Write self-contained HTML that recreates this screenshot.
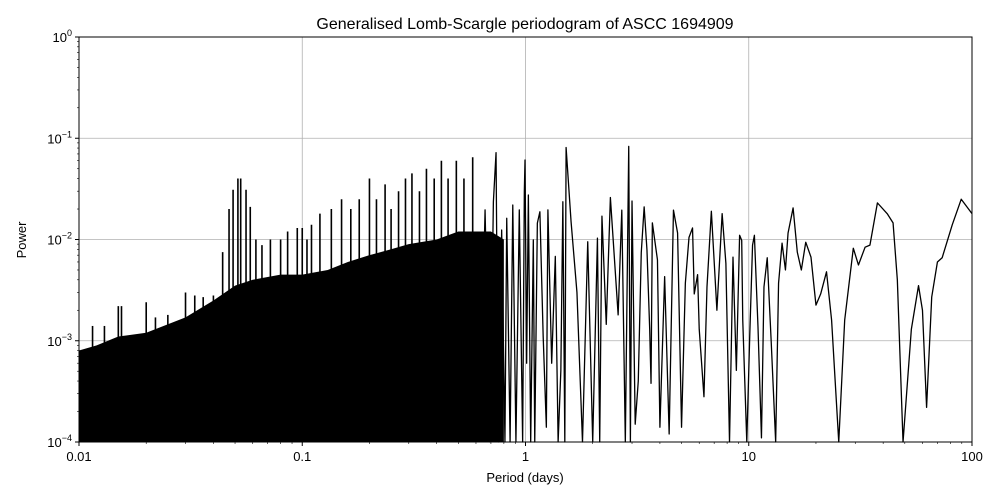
<!DOCTYPE html>
<html><head><meta charset="utf-8"><style>
body{margin:0;background:#fff;}
svg{display:block;font-family:"Liberation Sans",sans-serif;}
</style></head><body>
<svg id="chart" width="1000" height="500" viewBox="0 0 1000 500" xmlns="http://www.w3.org/2000/svg">
<rect width="1000" height="500" fill="#fff"/>
<text x="525" y="29" font-size="16" text-anchor="middle">Generalised Lomb-Scargle periodogram of ASCC 1694909</text>
<g id="grid"></g>
<g id="marks"></g>
<rect x="79" y="37" width="893" height="405" fill="none" stroke="#000" stroke-width="1"/>
<g id="axes"></g>
<text x="525" y="482" font-size="13" text-anchor="middle">Period (days)</text>
<text x="0" y="0" font-size="13" text-anchor="middle" transform="translate(26,240) rotate(-90)">Power</text>
</svg>
<script>
// dense-region upper envelope
const envPeriods=[0.01,0.012,0.015,0.02,0.03,0.04,0.05,0.06,0.08,0.1,0.13,0.16,0.2,0.25,0.3,0.4,0.5,0.6,0.7,0.8];
const envPower=[0.0008,0.0009,0.0011,0.0012,0.0017,0.0025,0.0035,0.004,0.0045,0.0045,0.005,0.006,0.007,0.008,0.009,0.01,0.012,0.012,0.012,0.01];
// spikes
const spikePeriods=[0.0115,0.013,0.015,0.0155,0.02,0.022,0.025,0.03,0.033,0.036,0.04,0.044,0.047,0.049,0.0515,0.053,0.056,0.0585,0.062,0.066,0.072,0.08,0.086,0.095,0.1,0.105,0.11,0.12,0.135,0.15,0.165,0.18,0.2,0.215,0.235,0.25,0.27,0.29,0.31,0.335,0.36,0.39,0.42,0.45,0.49,0.53,0.58];
const spikePower=[0.0014,0.0014,0.0022,0.0022,0.0024,0.0017,0.0018,0.003,0.0028,0.0027,0.0028,0.0075,0.02,0.031,0.04,0.04,0.031,0.021,0.01,0.0088,0.01,0.01,0.012,0.013,0.013,0.01,0.014,0.018,0.02,0.025,0.02,0.025,0.04,0.025,0.035,0.02,0.03,0.04,0.045,0.03,0.05,0.04,0.06,0.04,0.06,0.04,0.065];
// sparse region line
const linePeriods=[0.625,0.659,0.693,0.718,0.738,0.755,0.782,0.809,0.824,0.853,0.877,0.906,0.938,0.971,0.988,0.995,1.012,1.03,1.055,1.084,1.10,1.13,1.16,1.20,1.24,1.26,1.31,1.36,1.40,1.44,1.47,1.5,1.52,1.6,1.7,1.8,1.9,2.0,2.1,2.15,2.2,2.3,2.4,2.6,2.7,2.8,2.9,2.95,3.0,3.1,3.2,3.3,3.4,3.5,3.6,3.65,3.7,3.9,4.0,4.2,4.4,4.6,4.8,5.0,5.2,5.4,5.6,5.7,5.9,6.0,6.3,6.5,6.8,7.2,7.6,7.9,8.2,8.5,8.8,9.1,9.3,9.4,9.8,10.1,10.4,10.6,11,11.4,11.7,12.1,12.6,13.2,13.6,14.1,14.6,15.0,15.8,16.5,17.2,18.0,19.0,20.0,21.0,22.3,23.5,25.3,26.9,29.4,31.0,33.2,34.9,37.7,41.7,44.3,46.3,49.1,53.5,57.6,60.0,62.6,66.0,70.0,73.5,81.6,89.5,100];
const linePower=[1e-4,0.0196,1e-4,0.0236,0.072,1e-4,0.0124,1e-4,0.0162,1e-4,0.0219,1e-4,0.0196,1e-4,0.0297,0.061,6e-4,0.0275,1e-4,0.0099,1e-4,0.0145,0.0188,0.0011,1.4e-4,0.0196,6e-4,0.0068,1e-4,5.1e-4,0.0236,1e-4,0.081,0.015,0.003,1e-4,0.0095,1e-4,0.0103,1e-4,0.017,0.00145,0.026,0.0018,0.0195,1e-4,0.083,1e-4,0.024,1.5e-4,4e-4,0.0074,0.021,0.0079,0.0013,3.8e-4,0.0146,0.0063,1.4e-4,0.0043,1.2e-4,0.0195,0.0116,1.4e-4,0.0037,0.0105,0.013,0.0029,0.0045,0.0013,2.8e-4,0.0034,0.019,0.002,0.018,0.0058,1e-4,0.0067,5.1e-4,0.011,0.0098,0.0016,1e-4,0.0011,0.0088,0.011,0.00137,1.1e-4,0.0034,0.0066,0.001,1e-4,0.0037,0.0092,0.005,0.0116,0.0205,0.0075,0.005,0.0094,0.0067,0.00225,0.0029,0.0048,0.0016,1e-4,0.0016,0.0082,0.0056,0.0084,0.0088,0.023,0.018,0.0146,0.004,1e-4,0.0013,0.0035,0.002,2.2e-4,0.0027,0.006,0.0066,0.014,0.025,0.018];
const xTicks=[0.01,0.1,1,10,100];
const xTickLabels=["0.01","0.1","1","10","100"];
const yTicks=[1e-4,1e-3,1e-2,1e-1,1];
const yTickExp=["−4","−3","−2","−1","0"];

const X0=79,X1=972,Y0=442,Y1=37,NS="http://www.w3.org/2000/svg";
const xs=p=>X0+(Math.log10(p)+2)/4*(X1-X0);
const ys=v=>Y0-(Math.log10(Math.max(v,1e-4))+4)/4*(Y0-Y1);
function el(t,a,parent){const e=document.createElementNS(NS,t);for(const k in a)e.setAttribute(k,a[k]);parent.appendChild(e);return e;}
const grid=document.getElementById('grid'),marks=document.getElementById('marks'),axes=document.getElementById('axes');
xTicks.forEach((t,i)=>{
  const g=el('line',{x1:xs(t),x2:xs(t),y1:Y1,y2:Y0,stroke:'#b0b0b0','stroke-width':0.8},grid);
  
  
  const tk=el('line',{x1:xs(t),x2:xs(t),y1:Y0,y2:Y0+4,stroke:'#000'},axes);
  
  
  const tx=el('text',{x:xs(t),y:Y0+19,'font-size':13,'text-anchor':'middle'},axes);
  tx.textContent=xTickLabels[i];
  
  
  if(i<xTicks.length-1)for(let m=2;m<10;m++){
    const mt=el('line',{x1:xs(t*m),x2:xs(t*m),y1:Y0,y2:Y0+2,stroke:'#000','stroke-width':0.6},axes);
    
    
  }
});
yTicks.forEach((t,i)=>{
  const g=el('line',{x1:X0,x2:X1,y1:ys(t),y2:ys(t),stroke:'#b0b0b0','stroke-width':0.8},grid);
  
  
  const tk=el('line',{x1:X0-4,x2:X0,y1:ys(t),y2:ys(t),stroke:'#000'},axes);
  
  
  const tx=el('text',{x:X0-7,y:ys(t)+5,'font-size':13,'text-anchor':'end'},axes);
  tx.innerHTML='10<tspan dy="-6" font-size="9">'+yTickExp[i]+'</tspan>';
  
  
  if(i<yTicks.length-1)for(let m=2;m<10;m++){
    const mt=el('line',{x1:X0-2,x2:X0,y1:ys(t*m),y2:ys(t*m),stroke:'#000','stroke-width':0.6},axes);
    
    
  }
});
let d='M'+xs(envPeriods[0])+','+Y0;
envPeriods.forEach((p,i)=>{d+=' L'+xs(p)+','+ys(envPower[i]);});
d+=' L'+xs(envPeriods[envPeriods.length-1])+','+Y0+' Z';
const area=el('path',{d:d,fill:'#000'},marks);


spikePeriods.forEach((p,i)=>{
  const s=el('line',{x1:xs(p),x2:xs(p),y1:Y0,y2:ys(spikePower[i]),stroke:'#000','stroke-width':1.6},marks);
  
  
});
const pts=linePeriods.map((p,i)=>xs(p)+','+ys(linePower[i])).join(' ');
const ln=el('polyline',{points:pts,fill:'none',stroke:'#000','stroke-width':1.3,'stroke-linejoin':'round'},marks);


</script>
</body></html>
